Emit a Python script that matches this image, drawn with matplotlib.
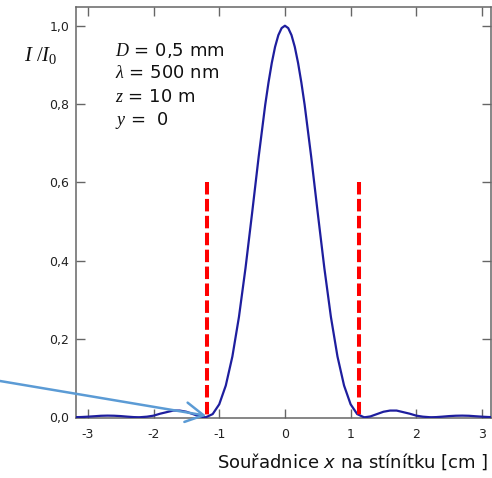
import matplotlib
matplotlib.use("Agg")
import matplotlib.pyplot as plt
from matplotlib.ticker import FixedLocator, FixedFormatter

plt.rcParams['font.family'] = ['DejaVu Sans']
plt.rcParams['mathtext.fontset'] = 'custom'
plt.rcParams['mathtext.rm'] = 'Liberation Serif'
plt.rcParams['mathtext.it'] = 'Liberation Serif:italic'
plt.rcParams['mathtext.sf'] = 'DejaVu Sans:italic'

# intensity profile (x in cm, I/I0)
x_cm = [-3.2, -3.1, -3.0, -2.9, -2.8, -2.7, -2.6, -2.5, -2.4, -2.3, -2.23, -2.2,
        -2.1, -2.0, -1.9, -1.8, -1.7, -1.6, -1.5, -1.4, -1.3, -1.22, -1.2, -1.1,
        -1.0, -0.9, -0.8, -0.7, -0.6, -0.5, -0.4, -0.3, -0.25, -0.2, -0.15, -0.1,
        -0.05, 0.0, 0.05, 0.1, 0.15, 0.2, 0.25, 0.3, 0.4, 0.5, 0.6, 0.7, 0.8,
        0.9, 1.0, 1.1, 1.2, 1.22, 1.3, 1.4, 1.5, 1.6, 1.7, 1.8, 1.9, 2.0, 2.1,
        2.2, 2.23, 2.3, 2.4, 2.5, 2.6, 2.7, 2.8, 2.9, 3.0, 3.1, 3.2]
intensity = [0.0001, 0.0005, 0.0014, 0.0025, 0.0037, 0.0041, 0.0038, 0.0029, 0.0015, 0.0003, 0.0, 0.0001,
             0.0014, 0.004, 0.009, 0.013, 0.017, 0.017, 0.014, 0.008, 0.002, 0.0, 0.0002, 0.008,
             0.033, 0.081, 0.155, 0.256, 0.381, 0.521, 0.665, 0.798, 0.855, 0.905, 0.946, 0.976,
             0.994, 1.0, 0.994, 0.976, 0.946, 0.905, 0.855, 0.798, 0.665, 0.521, 0.381, 0.256, 0.155,
             0.081, 0.033, 0.008, 0.0002, 0.0, 0.002, 0.008, 0.014, 0.017, 0.017, 0.013, 0.009, 0.004, 0.0014,
             0.0001, 0.0, 0.0003, 0.0015, 0.0029, 0.0038, 0.0041, 0.0037, 0.0025, 0.0014, 0.0005, 0.0001]

# first-minimum markers
red_x = [-1.19, 1.12]
red_top = 0.6

xticks = [-3, -2, -1, 0, 1, 2, 3]
xticklabels = ['-3', '-2', '-1', '0', '1', '2', '3']
yticks = [0.0, 0.2, 0.4, 0.6, 0.8, 1.0]
yticklabels = ['0,0', '0,2', '0,4', '0,6', '0,8', '1,0']

fig = plt.figure(figsize=(4.92, 4.78), dpi=100)
ax = fig.add_axes([0.1545, 0.1255, 0.8435, 0.86])

ax.plot(x_cm, intensity, color='#1e1e9e', lw=1.6, zorder=3)

for xr in red_x:
    ax.plot([xr, xr], [red_top, 0.0], color='#ff0000', lw=2.9,
            dashes=(3.1, 1.1), zorder=4)

ax.set_xlim(-3.18, 3.137)
ax.set_ylim(-0.002, 1.048)

ax.xaxis.set_major_locator(FixedLocator(xticks))
ax.xaxis.set_major_formatter(FixedFormatter(xticklabels))
ax.yaxis.set_major_locator(FixedLocator(yticks))
ax.yaxis.set_major_formatter(FixedFormatter(yticklabels))

for sp in ax.spines.values():
    sp.set_color('#666666')
    sp.set_linewidth(1.1)
ax.tick_params(direction='in', length=6.5, width=1.0, color='#666666',
               labelcolor='#222222', labelsize=9, top=True, right=True)
ax.tick_params(axis='x', pad=7)
ax.tick_params(axis='y', pad=5)

# arrow pointing at the first minimum
ax.annotate('', xy=(-1.2, 0.004), xycoords='data',
            xytext=(0, 478 - 381), textcoords='figure pixels',
            arrowprops=dict(arrowstyle='->,head_length=0.4,head_width=0.22',
                            color='#5b9bd5', lw=1.8,
                            mutation_scale=32, shrinkA=0, shrinkB=0),
            annotation_clip=False, zorder=5)

# parameters
lines = ['$D$ = 0,5 mm', r'$\lambda$ = 500 nm', '$z$ = 10 m', '$y$ =  0']
for i, t in enumerate(lines):
    fig.text(115 / 492, 1 - (50 + 23.5 * i) / 478, t, fontsize=13,
             va='center', ha='left', color='#111111')

fig.text(41 / 492, 1 - 55 / 478, r'$I\ /I_0$', fontsize=15, ha='center',
         va='center', color='#111111')
fig.text(0.993, 1 - 462 / 478, 'Souřadnice $\\mathsf{x}$ na stínítku [cm ]',
         fontsize=13, ha='right', va='center', color='#111111')

fig.savefig('out.png', dpi=100)
